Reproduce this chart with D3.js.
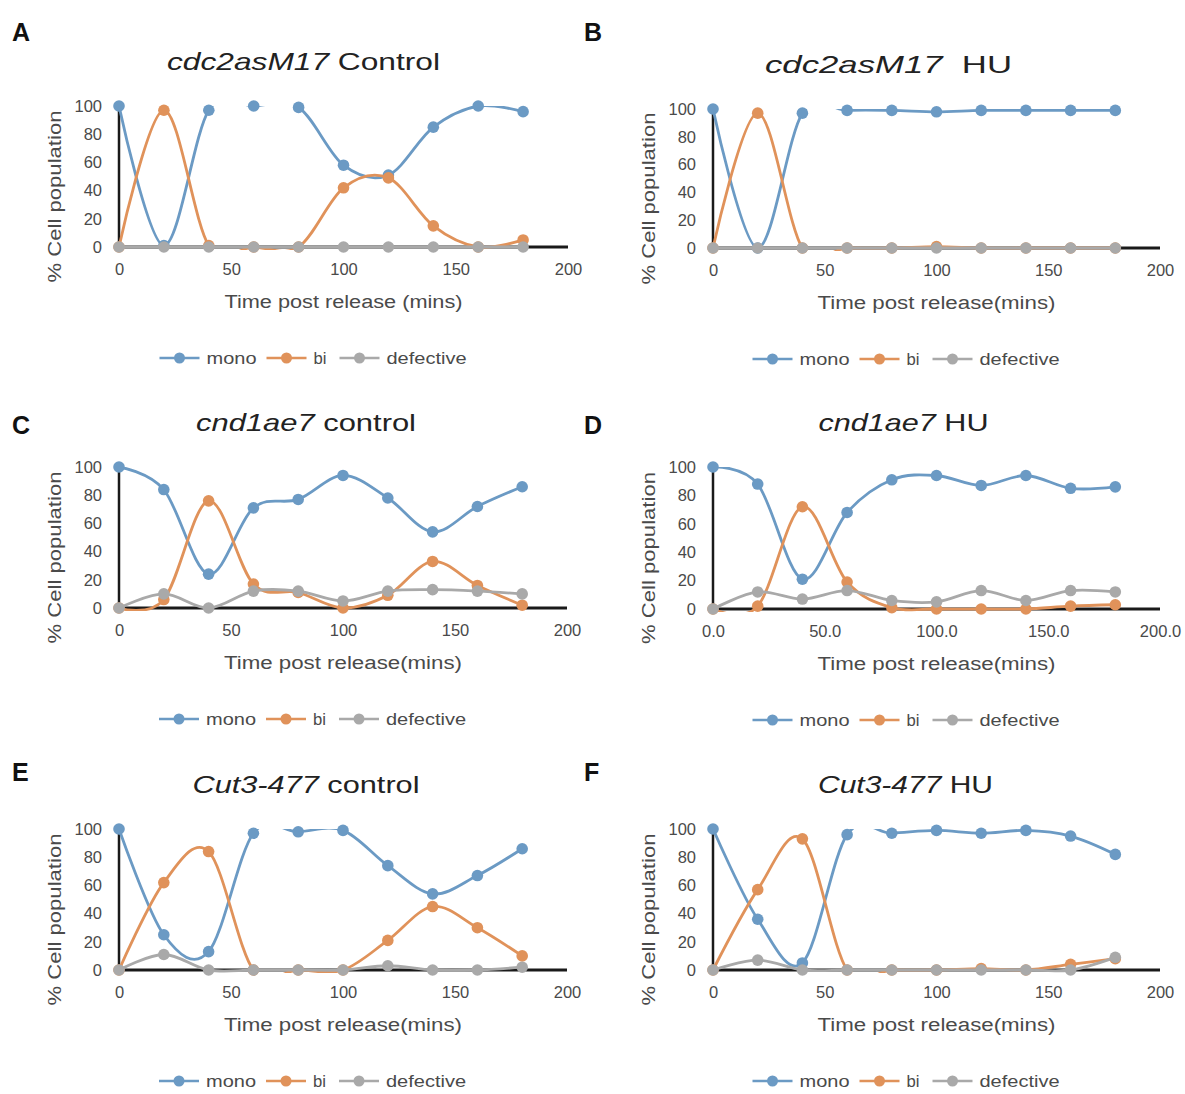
<!DOCTYPE html>
<html>
<head>
<meta charset="utf-8">
<script src="https://cdn.jsdelivr.net/npm/d3@7"></script>
<style>
  html, body { margin: 0; padding: 0; background: #fff; }
  svg text { font-family: "Liberation Sans", Arial, sans-serif; }
</style>
</head>
<body>
<svg id="chart" width="1185" height="1094"></svg>
<script>
// ---------- DATA ----------
const times = [0, 20, 40, 60, 80, 100, 120, 140, 160, 180];
const seriesNames = ["mono", "bi", "defective"];
const xTicks = [0, 50, 100, 150, 200];
const yTicks = [0, 20, 40, 60, 80, 100];

// A: cdc2asM17 Control
const monoA = [100, 1, 97, 100, 99, 58, 51, 85, 100, 96];
const biA   = [0, 97, 1, 0, 0, 42, 49, 15, 0, 5];
const defA  = [0, 0, 0, 0, 0, 0, 0, 0, 0, 0];
// B: cdc2asM17 HU
const monoB = [100, 0, 97, 99, 99, 98, 99, 99, 99, 99];
const biB   = [0, 97, 0, 0, 0, 1, 0, 0, 0, 0];
const defB  = [0, 0, 0, 0, 0, 0, 0, 0, 0, 0];
// C: cnd1ae7 control
const monoC = [100, 84, 24, 71, 77, 94, 78, 54, 72, 86];
const biC   = [0, 6, 76, 17, 11, 0, 9, 33, 16, 2];
const defC  = [0, 10, 0, 12, 12, 5, 12, 13, 12, 10];
// D: cnd1ae7 HU
const monoD = [100, 88, 21, 68, 91, 94, 87, 94, 85, 86];
const biD   = [0, 2, 72, 19, 1, 0, 0, 0, 2, 3];
const defD  = [0, 12, 7, 13, 6, 5, 13, 6, 13, 12];
// E: Cut3-477 control
const monoE = [100, 25, 13, 97, 98, 99, 74, 54, 67, 86];
const biE   = [0, 62, 84, 0, 0, 0, 21, 45, 30, 10];
const defE  = [0, 11, 0, 0, 0, 0, 3, 0, 0, 2];
// F: Cut3-477 HU
const monoF = [100, 36, 5, 96, 97, 99, 97, 99, 95, 82];
const biF   = [0, 57, 93, 0, 0, 0, 1, 0, 4, 8];
const defF  = [0, 7, 0, 0, 0, 0, 0, 0, 0, 9];

// ---------- STYLE / LAYOUT ----------
const colors = { mono: "#6b9ac4", bi: "#e0925a", defective: "#a9a9a9" };
const textGray = "#4a4a4a";

const panels = [
  { letter: "A", ital: "cdc2asM17", rest: " Control", data: [monoA, biA, defA], x0: 119, x1: 568, yTop: 106, yBot: 247, titleW: 273, titleDx: -40, fmt: d3.format("d") },
  { letter: "B", ital: "cdc2asM17", rest: "\u00a0 HU",   data: [monoB, biB, defB], x0: 713, x1: 1160, yTop: 109, yBot: 248, titleW: 247, titleDx: -48, fmt: d3.format("d") },
  { letter: "C", ital: "cnd1ae7",   rest: " control", data: [monoC, biC, defC], x0: 119, x1: 567, yTop: 467, yBot: 608, titleW: 220, titleDx: -37, fmt: d3.format("d") },
  { letter: "D", ital: "cnd1ae7",   rest: " HU",      data: [monoD, biD, defD], x0: 713, x1: 1160, yTop: 467, yBot: 609, titleW: 170, titleDx: -33, fmt: d3.format(".1f") },
  { letter: "E", ital: "Cut3-477",  rest: " control", data: [monoE, biE, defE], x0: 119, x1: 567, yTop: 829, yBot: 970, titleW: 227, titleDx: -37, fmt: d3.format("d") },
  { letter: "F", ital: "Cut3-477",  rest: " HU",      data: [monoF, biF, defF], x0: 713, x1: 1160, yTop: 829, yBot: 970, titleW: 175, titleDx: -31, fmt: d3.format("d") }
];
const letterPos = { A: [12, 41], B: [584, 41], C: [12, 434], D: [584, 434], E: [12, 781], F: [584, 781] };

const svg = d3.select("#chart");
const defs = svg.append("defs");

panels.forEach((p, i) => {
  const x = d3.scaleLinear().domain([0, 200]).range([p.x0, p.x1]);
  const y = d3.scaleLinear().domain([0, 100]).range([p.yBot, p.yTop]);
  const g = svg.append("g");
  const cx = (p.x0 + p.x1) / 2;

  // panel letter
  g.append("text").attr("x", letterPos[p.letter][0]).attr("y", letterPos[p.letter][1])
    .attr("font-size", 25).attr("font-weight", "bold").attr("fill", "#111").text(p.letter);

  // title
  const t = g.append("text").attr("x", cx + p.titleDx).attr("y", p.yTop - 36)
    .attr("text-anchor", "middle").attr("font-size", 24).attr("fill", "#222")
    .attr("textLength", p.titleW).attr("lengthAdjust", "spacingAndGlyphs");
  t.append("tspan").attr("font-style", "italic").text(p.ital);
  t.append("tspan").text(p.rest);

  // axes lines (no ticks)
  g.append("line").attr("x1", x(0)).attr("x2", x(0)).attr("y1", y(100)).attr("y2", y(0))
    .attr("stroke", "#1a1a1a").attr("stroke-width", 2.5);
  g.append("line").attr("x1", x(0)).attr("x2", x(200)).attr("y1", y(0)).attr("y2", y(0))
    .attr("stroke", "#1a1a1a").attr("stroke-width", 3);

  // y tick labels via axis
  const yAxis = d3.axisLeft(y).tickValues(yTicks).tickSize(0).tickPadding(17).tickFormat(d3.format("d"));
  const ya = g.append("g").attr("transform", `translate(${x(0)},0)`).call(yAxis);
  ya.select(".domain").remove();
  ya.selectAll("text").attr("font-size", 16.5).attr("fill", textGray)
    .attr("font-family", "Liberation Sans, Arial, sans-serif");

  const xAxis = d3.axisBottom(x).tickValues(xTicks).tickSize(0).tickPadding(16).tickFormat(p.fmt);
  const xa = g.append("g").attr("transform", `translate(0,${y(0)})`).call(xAxis);
  xa.select(".domain").remove();
  xa.selectAll("text").attr("font-size", 16.5).attr("fill", textGray)
    .attr("font-family", "Liberation Sans, Arial, sans-serif");

  // axis titles
  g.append("text").attr("x", cx).attr("y", p.yBot + 61).attr("text-anchor", "middle")
    .attr("font-size", 18).attr("fill", textGray)
    .attr("textLength", 238).attr("lengthAdjust", "spacingAndGlyphs")
    .text(i === 0 ? "Time post release (mins)" : "Time post release(mins)");
  const ytY = (p.yTop + p.yBot) / 2 + 20;
  g.append("text").attr("transform", `translate(${p.x0 - 58},${ytY}) rotate(-90)`)
    .attr("text-anchor", "middle").attr("font-size", 18).attr("fill", textGray)
    .attr("textLength", 172).attr("lengthAdjust", "spacingAndGlyphs")
    .text("% Cell population");

  // clip (plot area: lines overshooting the 0..100 range are cut, as in the original)
  const cid = "clip" + p.letter;
  defs.append("clipPath").attr("id", cid).append("rect")
    .attr("x", x(0) - 3).attr("y", y(100))
    .attr("width", x(200) - x(0) + 6).attr("height", y(0) - y(100) + 3);

  const line = d3.line().x(d => x(d[0])).y(d => y(d[1])).curve(d3.curveCardinal.tension(0));

  seriesNames.forEach((name, si) => {
    const pts = times.map((tm, k) => [tm, p.data[si][k]]);
    g.append("path").attr("d", line(pts)).attr("fill", "none")
      .attr("stroke", colors[name]).attr("stroke-width", 2.8)
      .attr("clip-path", `url(#${cid})`);
    g.selectAll(null).data(pts).enter().append("circle")
      .attr("cx", d => x(d[0])).attr("cy", d => y(d[1])).attr("r", 5.8)
      .attr("fill", colors[name]);
  });

  // legend
  const L = cx - 23 - 161;
  const ly = p.yBot + 111;
  const legendItems = [
    { name: "mono", off: 0, tw: 50 },
    { name: "bi", off: 107, tw: 13 },
    { name: "defective", off: 180, tw: 80 }
  ];
  legendItems.forEach(it => {
    const lx = L + it.off;
    g.append("line").attr("x1", lx).attr("x2", lx + 40).attr("y1", ly).attr("y2", ly)
      .attr("stroke", colors[it.name]).attr("stroke-width", 2.5);
    g.append("circle").attr("cx", lx + 20).attr("cy", ly).attr("r", 5.5).attr("fill", colors[it.name]);
    g.append("text").attr("x", lx + 47).attr("y", ly + 6).attr("font-size", 17).attr("fill", textGray)
      .attr("textLength", it.tw).attr("lengthAdjust", "spacingAndGlyphs").text(it.name);
  });
});
</script>
</body>
</html>
